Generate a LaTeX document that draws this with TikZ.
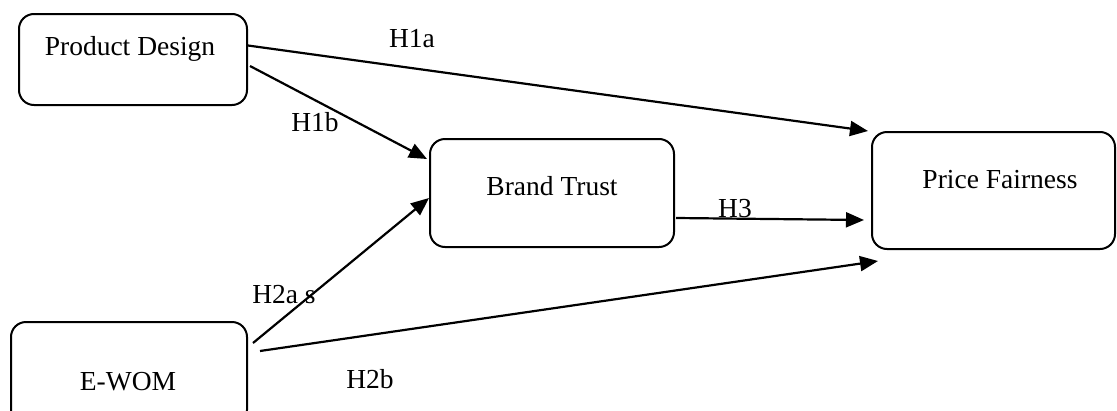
\documentclass[tikz,border=0pt]{standalone}
\usepackage{fontspec}
\setmainfont{Liberation Serif}
\usetikzlibrary{arrows.meta,calc}
\begin{document}
\begin{tikzpicture}[x=1pt,y=-1pt,
  box/.style={draw,line width=2pt,rounded corners=15pt,inner sep=0pt},
  txt/.style={anchor=base,inner sep=0pt,font=\fontsize{27.5}{33}\selectfont},
  link/.style={line width=2.2pt,-{Triangle[length=18pt,width=15pt]}}]
\clip (0,0) rectangle (1117,410);
\useasboundingbox (0,0) rectangle (1117,410);

% construct boxes
\node[box,minimum width=228pt,minimum height=91pt]  (pd) at (133,59.5)   {};
\node[box,minimum width=244pt,minimum height=108pt] (bt) at (552,193)    {};
\node[box,minimum width=243pt,minimum height=117pt] (pf) at (993.5,190.5) {};
\node[box,minimum width=236pt,minimum height=103pt] (ew) at (129,373.5)  {};

% box captions
\node[txt] (pdt) at (130,55)  {Product Design};
\node[txt] (btt) at (552,195) {Brand Trust};
\node[txt] (pft) at (1000,188) {Price Fairness};
\node[txt] (ewt) at (128,390) {E-WOM};

% hypothesised paths
\coordinate (a1) at ($(pd.east)+(0,-14)$);
\coordinate (a2) at ($(pf.north west)+(-3,0)$);
\coordinate (b1) at ($(pd.east)+(2,6.5)$);
\coordinate (b2) at ($(bt.north west)+(-2,21)$);
\coordinate (c1) at ($(bt.east)+(1,25)$);
\coordinate (c2) at ($(pf.west)+(-7,29.5)$);
\coordinate (d1) at ($(ew.north east)+(5,22)$);
\coordinate (d2) at ($(bt.west)+(0,5)$);
\coordinate (e1) at ($(ew.north east)+(12,30)$);
\coordinate (e2) at ($(pf.south west)+(7,11)$);

\draw[link] (a1) -- (a2);
\draw[link] (b1) -- (b2);
\draw[link] (c1) -- (c2);
\draw[link] (d1) -- (d2);
\draw[link] (e1) -- (e2);

% path labels
\node[txt] (h1a) at (412,47)  {H1a};
\node[txt] (h1b) at (315,131) {H1b};
\node[txt] (h3)  at (735,217) {H3};
\node[txt] (h2a) at (284,303) {H2a s};
\node[txt] (h2b) at (370,388) {H2b};
\end{tikzpicture}
\end{document}
